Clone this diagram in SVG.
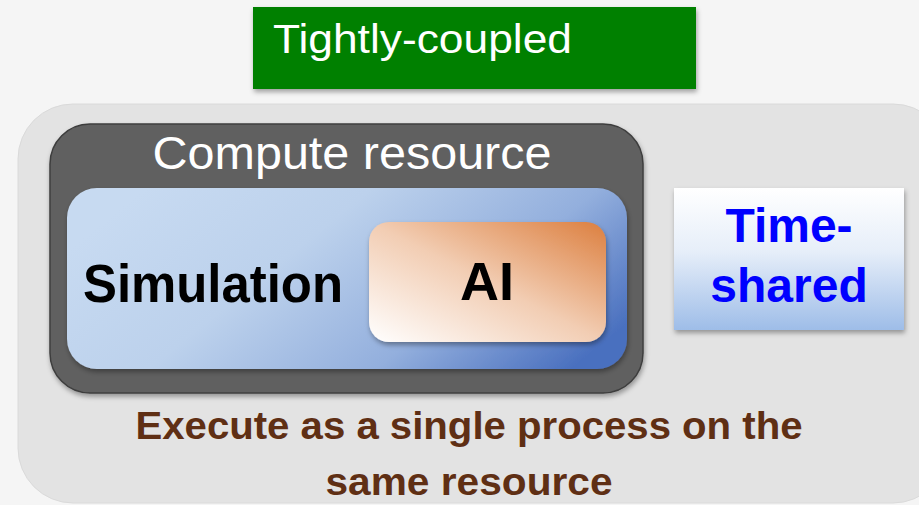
<svg xmlns="http://www.w3.org/2000/svg" width="919" height="505" viewBox="0 0 919 505">
  <defs>
    <filter id="sh" x="-10%" y="-10%" width="120%" height="130%">
      <feDropShadow dx="1" dy="3" stdDeviation="2.5" flood-color="#000" flood-opacity="0.35"/>
    </filter>
    <linearGradient id="gBlue" x1="0" y1="0.35" x2="1" y2="0.75">
      <stop offset="0" stop-color="#c7daf1"/>
      <stop offset="0.35" stop-color="#bcd1ec"/>
      <stop offset="0.7" stop-color="#93afdd"/>
      <stop offset="1" stop-color="#4a70bf"/>
    </linearGradient>
    <linearGradient id="gOrange" x1="0" y1="1" x2="1" y2="0">
      <stop offset="0" stop-color="#ffffff"/>
      <stop offset="0.5" stop-color="#f2cdb3"/>
      <stop offset="1" stop-color="#dc7f3f"/>
    </linearGradient>
    <linearGradient id="gTime" x1="0" y1="0" x2="0" y2="1">
      <stop offset="0" stop-color="#ffffff"/>
      <stop offset="0.45" stop-color="#e6eef9"/>
      <stop offset="1" stop-color="#9ebde8"/>
    </linearGradient>
    <style>
      .lbl { font-family: "Liberation Sans", Arial, sans-serif; }
      .b { font-weight: bold; }
    </style>
  </defs>
  <rect x="0" y="0" width="919" height="505" fill="#f5f5f5"/>

  <g id="title">
    <rect x="253" y="7" width="443" height="82" fill="#008000" filter="url(#sh)"/>
    <text class="lbl" x="273" y="53" font-size="41" fill="#ffffff" textLength="299" lengthAdjust="spacingAndGlyphs">Tightly-coupled</text>
  </g>

  <g id="outer">
    <rect x="18" y="104" width="930" height="399" rx="55" fill="#e3e3e3" stroke="#dadada" stroke-width="1"/>
    <text class="lbl b" x="469" y="439" font-size="39" fill="#5f2f14" text-anchor="middle" textLength="667" lengthAdjust="spacingAndGlyphs">Execute as a single process on the</text>
    <text class="lbl b" x="469" y="495" font-size="39" fill="#5f2f14" text-anchor="middle" textLength="287" lengthAdjust="spacingAndGlyphs">same resource</text>
  </g>

  <g id="compute">
    <rect x="50" y="124" width="593" height="269" rx="40" fill="#606060" stroke="#3e3e3e" stroke-width="1.5" filter="url(#sh)"/>
    <text class="lbl" x="352" y="169" font-size="46" fill="#ffffff" text-anchor="middle" textLength="399" lengthAdjust="spacingAndGlyphs">Compute resource</text>
  </g>

  <g id="simulation">
    <rect x="67" y="188" width="560" height="181" rx="30" fill="url(#gBlue)" filter="url(#sh)"/>
    <text class="lbl b" x="83" y="302" font-size="54" fill="#000000" textLength="260" lengthAdjust="spacingAndGlyphs">Simulation</text>
  </g>

  <g id="ai">
    <rect x="369" y="222" width="237" height="120" rx="20" fill="url(#gOrange)" filter="url(#sh)"/>
    <text class="lbl b" x="487" y="300" font-size="54" fill="#000000" text-anchor="middle">AI</text>
  </g>

  <g id="timeshared">
    <rect x="674" y="188" width="230" height="142" fill="url(#gTime)" filter="url(#sh)"/>
    <text class="lbl b" x="789" y="242" font-size="48" fill="#0000ff" text-anchor="middle">Time-</text>
    <text class="lbl b" x="789" y="302" font-size="48" fill="#0000ff" text-anchor="middle">shared</text>
  </g>

  <g id="connectors"></g>
</svg>
